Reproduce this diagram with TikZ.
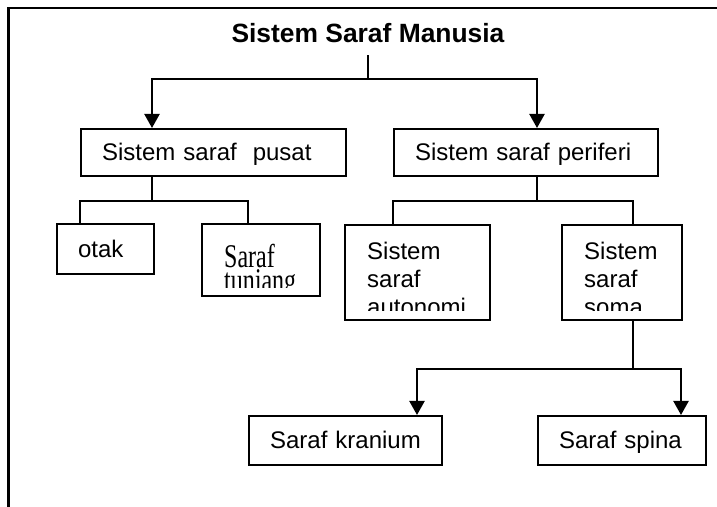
\documentclass[tikz,border=0pt]{standalone}
\usepackage{fontspec}
\usepackage{graphicx}
\setmainfont{Liberation Sans}
\newfontfamily\timesfont{Liberation Serif}
\usetikzlibrary{arrows.meta}
\newcommand{\tall}[1]{\scalebox{1}[1.38]{#1}}

\begin{document}
\begin{tikzpicture}[x=0.5pt,y=-0.5pt,
  line/.style={line width=1.1pt},
  arrow/.style={line width=1.1pt,-{Triangle[width=7.5pt,length=7pt]}},
  box/.style={draw,line width=1.1pt,anchor=north west,inner xsep=10.5pt,inner ysep=0pt,
    align=left,text height=8.8pt,text depth=0.6pt,font=\fontsize{12}{14}\selectfont},
  tallbox/.style={draw,line width=1.1pt,anchor=north west,inner sep=0pt},
  cliptext/.style n args={4}{path picture={
    \clip (path picture bounding box.north west) rectangle ([yshift=#2]path picture bounding box.south east);
    \node[draw=none,minimum size=0pt,anchor=north west,inner sep=0pt,align=left,font=#3]
      at ([shift={(10.5pt,-#1)}]path picture bounding box.north west) {#4};}}]
\useasboundingbox (0,0) rectangle (717,507);
\draw[line width=1.3pt] (717,8) -- (8.5,8) -- (8.5,507);

\node[font=\bfseries\fontsize{13.2}{16}\selectfont,anchor=base,inner ysep=6pt,text depth=0pt] (title) at (368,43) {Sistem Saraf Manusia};

\node[box,text width=111.5pt,minimum height=23.5pt] (pusat) at (80,128) {Sistem saraf\ \ pusat};
\node[box,text width=111pt,minimum height=23.5pt] (periferi) at (393,128) {Sistem saraf periferi};

\node[box,text width=27.5pt,minimum height=25pt] (otak) at (56,223) {otak};
\node[tallbox,minimum width=59pt,minimum height=36pt,
  cliptext={9.4pt}{4.5pt}{\timesfont\fontsize{12}{10.8}\selectfont}{\tall{Saraf}\\\tall{tunjang}}] (tunjang) at (201,223) {};
\node[tallbox,minimum width=72.5pt,minimum height=47.5pt,
  cliptext={8.2pt}{5pt}{\fontsize{12}{14}\selectfont}{Sistem\\saraf\\autonomi}] (autonomi) at (344,224) {};
\node[tallbox,minimum width=60pt,minimum height=47.5pt,
  cliptext={8.2pt}{5pt}{\fontsize{12}{14}\selectfont}{Sistem\\saraf\\soma}] (soma) at (561,224) {};

\node[box,text width=75.5pt,minimum height=24.5pt] (kranium) at (248,415) {Saraf kranium};
\node[box,text width=63pt,minimum height=24.5pt] (spina) at (537,415) {Saraf spina};

% cabang utama
\draw[line] (title.south) -- ++(0,24) coordinate (fork1);
\draw[arrow] (fork1) -| ([xshift=36pt]pusat.north west);
\draw[arrow] (fork1) -| ([xshift=72pt]periferi.north west);

\draw[line] ([xshift=36pt]pusat.south west) -- ++(0,24) coordinate (fork2);
\draw[line] (fork2) -| ([xshift=12pt]otak.north west);
\draw[line] (fork2) -| ([xshift=23.5pt]tunjang.north west);

\draw[line] ([xshift=72pt]periferi.south west) -- ++(0,24) coordinate (fork3);
\draw[line] (fork3) -| ([xshift=24.5pt]autonomi.north west);
\draw[line] (fork3) -| ([xshift=36pt]soma.north west);

\draw[line] ([xshift=36pt]soma.south west) -- ++(0,48) coordinate (fork4);
\draw[arrow] (fork4) -| ([xshift=84.5pt]kranium.north west);
\draw[arrow] (fork4) -| ([xshift=72pt]spina.north west);
\end{tikzpicture}
\end{document}
